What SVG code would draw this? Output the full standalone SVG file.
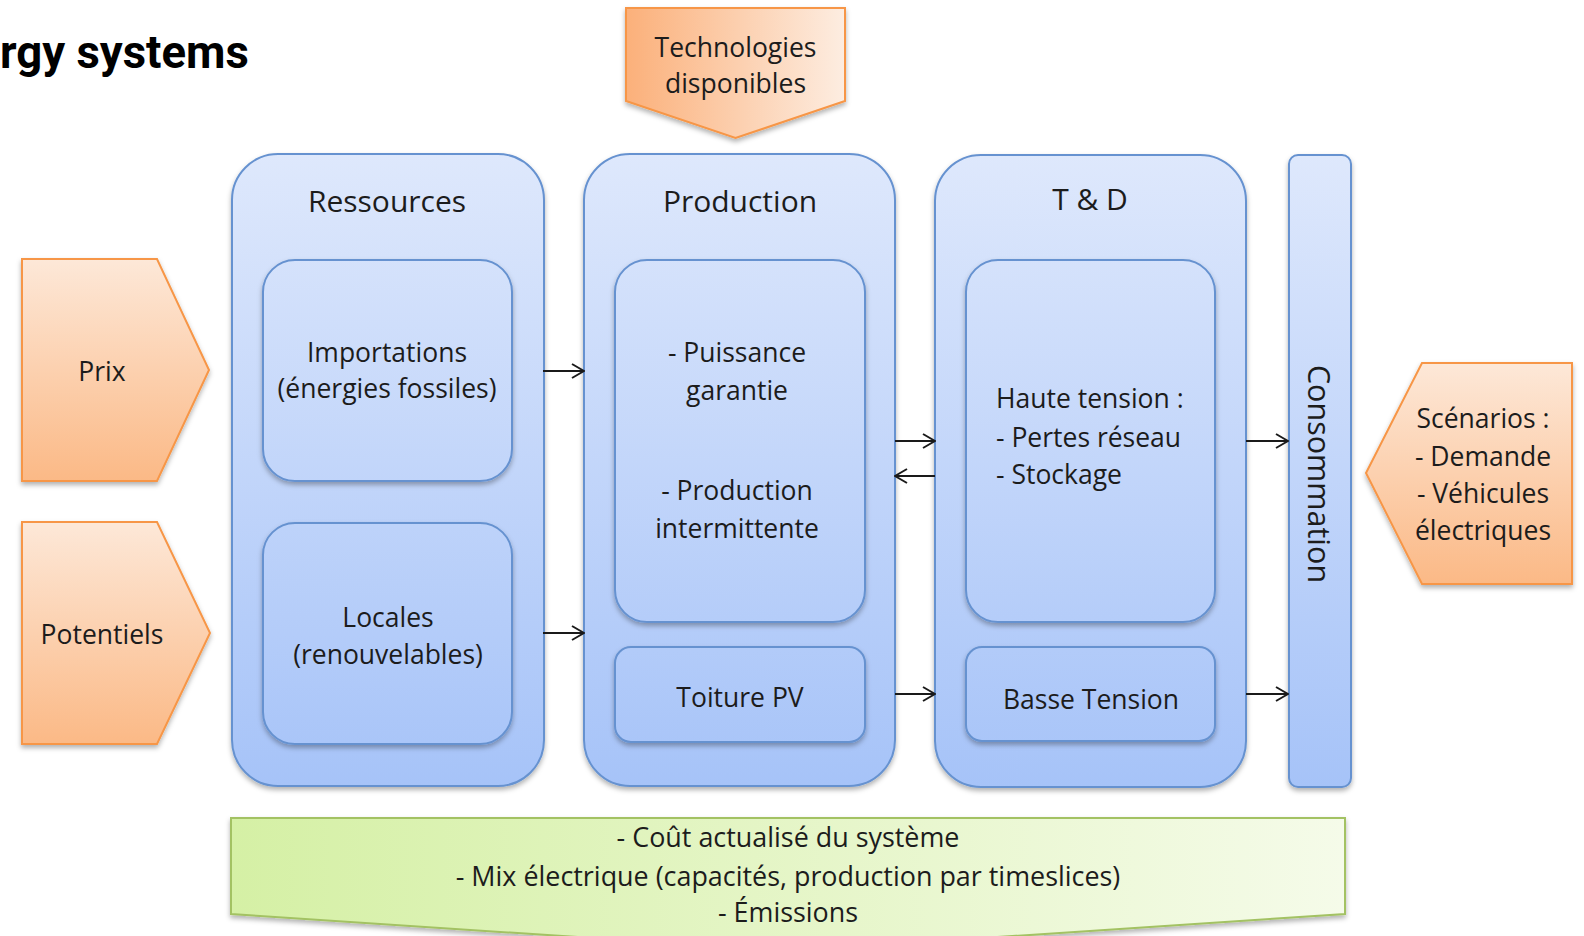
<svg xmlns="http://www.w3.org/2000/svg" width="1584" height="936" viewBox="0 0 1584 936">
  <defs>
    <!-- shared blue fill for the stage columns and their inner boxes -->
    <linearGradient id="blueFill" gradientUnits="userSpaceOnUse" x1="0" y1="155" x2="0" y2="787">
      <stop offset="0" stop-color="#DEE8FC"/>
      <stop offset="1" stop-color="#A6C3F8"/>
    </linearGradient>
    <linearGradient id="orangeV" x1="0" y1="0" x2="0" y2="1">
      <stop offset="0" stop-color="#FDE8D8"/>
      <stop offset="1" stop-color="#FBB986"/>
    </linearGradient>
    <linearGradient id="orangeH" x1="0" y1="0" x2="1" y2="0">
      <stop offset="0" stop-color="#FBB07A"/>
      <stop offset="1" stop-color="#FDEDE1"/>
    </linearGradient>
    <linearGradient id="greenH" x1="0" y1="0" x2="1" y2="0">
      <stop offset="0" stop-color="#D5F0A5"/>
      <stop offset="1" stop-color="#F5FBE9"/>
    </linearGradient>
    <filter id="shadow" x="-10%" y="-10%" width="120%" height="130%">
      <feDropShadow dx="0" dy="3" stdDeviation="2.5" flood-color="#000" flood-opacity="0.3"/>
    </filter>
    <marker id="arrow" viewBox="0 0 14 16" refX="13" refY="8" markerWidth="14" markerHeight="16" markerUnits="userSpaceOnUse" orient="auto">
      <path d="M1,1 L13,8 L1,15" fill="none" stroke="#1a1a1a" stroke-width="2"/>
    </marker>
    <style>
      .stage { fill: url(#blueFill); stroke: #6692D0; stroke-width: 2; filter: url(#shadow); }
      .inner { fill: url(#blueFill); stroke: #6692D0; stroke-width: 2; filter: url(#shadow); }
      .inputV { fill: url(#orangeV); stroke: #F79646; stroke-width: 2; filter: url(#shadow); }
      .inputH { fill: url(#orangeH); stroke: #F79646; stroke-width: 2; filter: url(#shadow); }
      .output { fill: url(#greenH); stroke: #A3C263; stroke-width: 2; filter: url(#shadow); }
      text { font-family: "Open Sans", "Noto Sans", sans-serif; fill: #1c1c1c; }
      .body { font-size: 26.5px; text-anchor: middle; }
      .left { font-size: 26.5px; text-anchor: start; }
      .band { font-size: 26.9px; text-anchor: middle; }
      .head { font-size: 30px; text-anchor: middle; }
      .title { font-family: Roboto, "Liberation Sans", sans-serif; font-weight: bold; font-size: 45.5px; fill: #000; text-anchor: start; }
      .link { fill: none; stroke: #1a1a1a; stroke-width: 2; marker-end: url(#arrow); }
    </style>
  </defs>

  <rect width="1584" height="936" fill="#ffffff"/>

  <text class="title" x="0" y="68">rgy systems</text>

  <!-- external inputs -->
  <g id="technologies">
    <path class="inputH" d="M626,8 L845,8 L845,101 L735.5,138 L626,101 Z"/>
    <text class="body" x="735.5" y="57">Technologies</text>
    <text class="body" x="735.5" y="93">disponibles</text>
  </g>
  <g id="prix">
    <path class="inputV" d="M22,259 L157,259 L209,370 L157,481 L22,481 Z"/>
    <text class="body" x="102" y="381">Prix</text>
  </g>
  <g id="potentiels">
    <path class="inputV" d="M22,522 L157,522 L210,633 L157,744 L22,744 Z"/>
    <text class="body" x="102" y="644">Potentiels</text>
  </g>
  <g id="scenarios">
    <path class="inputV" d="M1366,473 L1422,363 L1572,363 L1572,584 L1422,584 Z"/>
    <text class="body" x="1483" y="428">Scénarios :</text>
    <text class="body" x="1483" y="466">- Demande</text>
    <text class="body" x="1483" y="503">- Véhicules</text>
    <text class="body" x="1483" y="540">électriques</text>
  </g>

  <!-- Ressources column -->
  <g id="ressources">
    <rect class="stage" x="232" y="154" width="312" height="632" rx="46" ry="46"/>
    <text class="head" x="387" y="212">Ressources</text>
  </g>
  <g id="importations">
    <rect class="inner" x="263" y="260" width="249" height="221" rx="32" ry="32"/>
    <text class="body" x="387" y="362">Importations</text>
    <text class="body" x="387" y="398">(énergies fossiles)</text>
  </g>
  <g id="locales">
    <rect class="inner" x="263" y="523" width="249" height="221" rx="32" ry="32"/>
    <text class="body" x="388" y="627">Locales</text>
    <text class="body" x="388" y="664">(renouvelables)</text>
  </g>

  <!-- Production column -->
  <g id="production">
    <rect class="stage" x="584" y="154" width="311" height="632" rx="46" ry="46"/>
    <text class="head" x="740" y="212">Production</text>
  </g>
  <g id="production-types">
    <rect class="inner" x="615" y="260" width="250" height="362" rx="32" ry="32"/>
    <text class="body" x="737" y="362">- Puissance</text>
    <text class="body" x="737" y="400">garantie</text>
    <text class="body" x="737" y="500">- Production</text>
    <text class="body" x="737" y="538">intermittente</text>
  </g>
  <g id="toiture-pv">
    <rect class="inner" x="615" y="647" width="250" height="95" rx="16" ry="16"/>
    <text class="body" x="740" y="707">Toiture PV</text>
  </g>

  <!-- Transmission & distribution column -->
  <g id="t-and-d">
    <rect class="stage" x="935" y="155" width="311" height="632" rx="46" ry="46"/>
    <text class="head" x="1090" y="210">T &amp; D</text>
  </g>
  <g id="haute-tension">
    <rect class="inner" x="966" y="260" width="249" height="362" rx="32" ry="32"/>
    <text class="left" x="996" y="408">Haute tension :</text>
    <text class="left" x="996" y="447">- Pertes réseau</text>
    <text class="left" x="996" y="484">- Stockage</text>
  </g>
  <g id="basse-tension">
    <rect class="inner" x="966" y="647" width="249" height="94" rx="16" ry="16"/>
    <text class="body" x="1091" y="709">Basse Tension</text>
  </g>

  <!-- Consommation bar -->
  <g id="consommation">
    <rect class="stage" x="1289" y="155" width="62" height="632" rx="9" ry="9"/>
    <text class="head" transform="translate(1308,474) rotate(90)" x="0" y="0" style="font-size:30.5px">Consommation</text>
  </g>

  <!-- results -->
  <g id="resultats">
    <path class="output" d="M231,818 L1345,818 L1345,914 L788,951 L231,914 Z"/>
    <text class="band" x="788" y="847">- Coût actualisé du système</text>
    <text class="band" x="788" y="886">- Mix électrique (capacités, production par timeslices)</text>
    <text class="band" x="788" y="922">- Émissions</text>
  </g>

  <!-- flows between stages -->
  <g id="connectors">
    <line class="link" x1="543" y1="371" x2="584" y2="371"/>
    <line class="link" x1="543" y1="633" x2="584" y2="633"/>
    <line class="link" x1="895" y1="441" x2="935" y2="441"/>
    <line class="link" x1="935" y1="476" x2="895" y2="476"/>
    <line class="link" x1="895" y1="694" x2="935" y2="694"/>
    <line class="link" x1="1246" y1="441" x2="1288" y2="441"/>
    <line class="link" x1="1246" y1="694" x2="1288" y2="694"/>
  </g>
</svg>
